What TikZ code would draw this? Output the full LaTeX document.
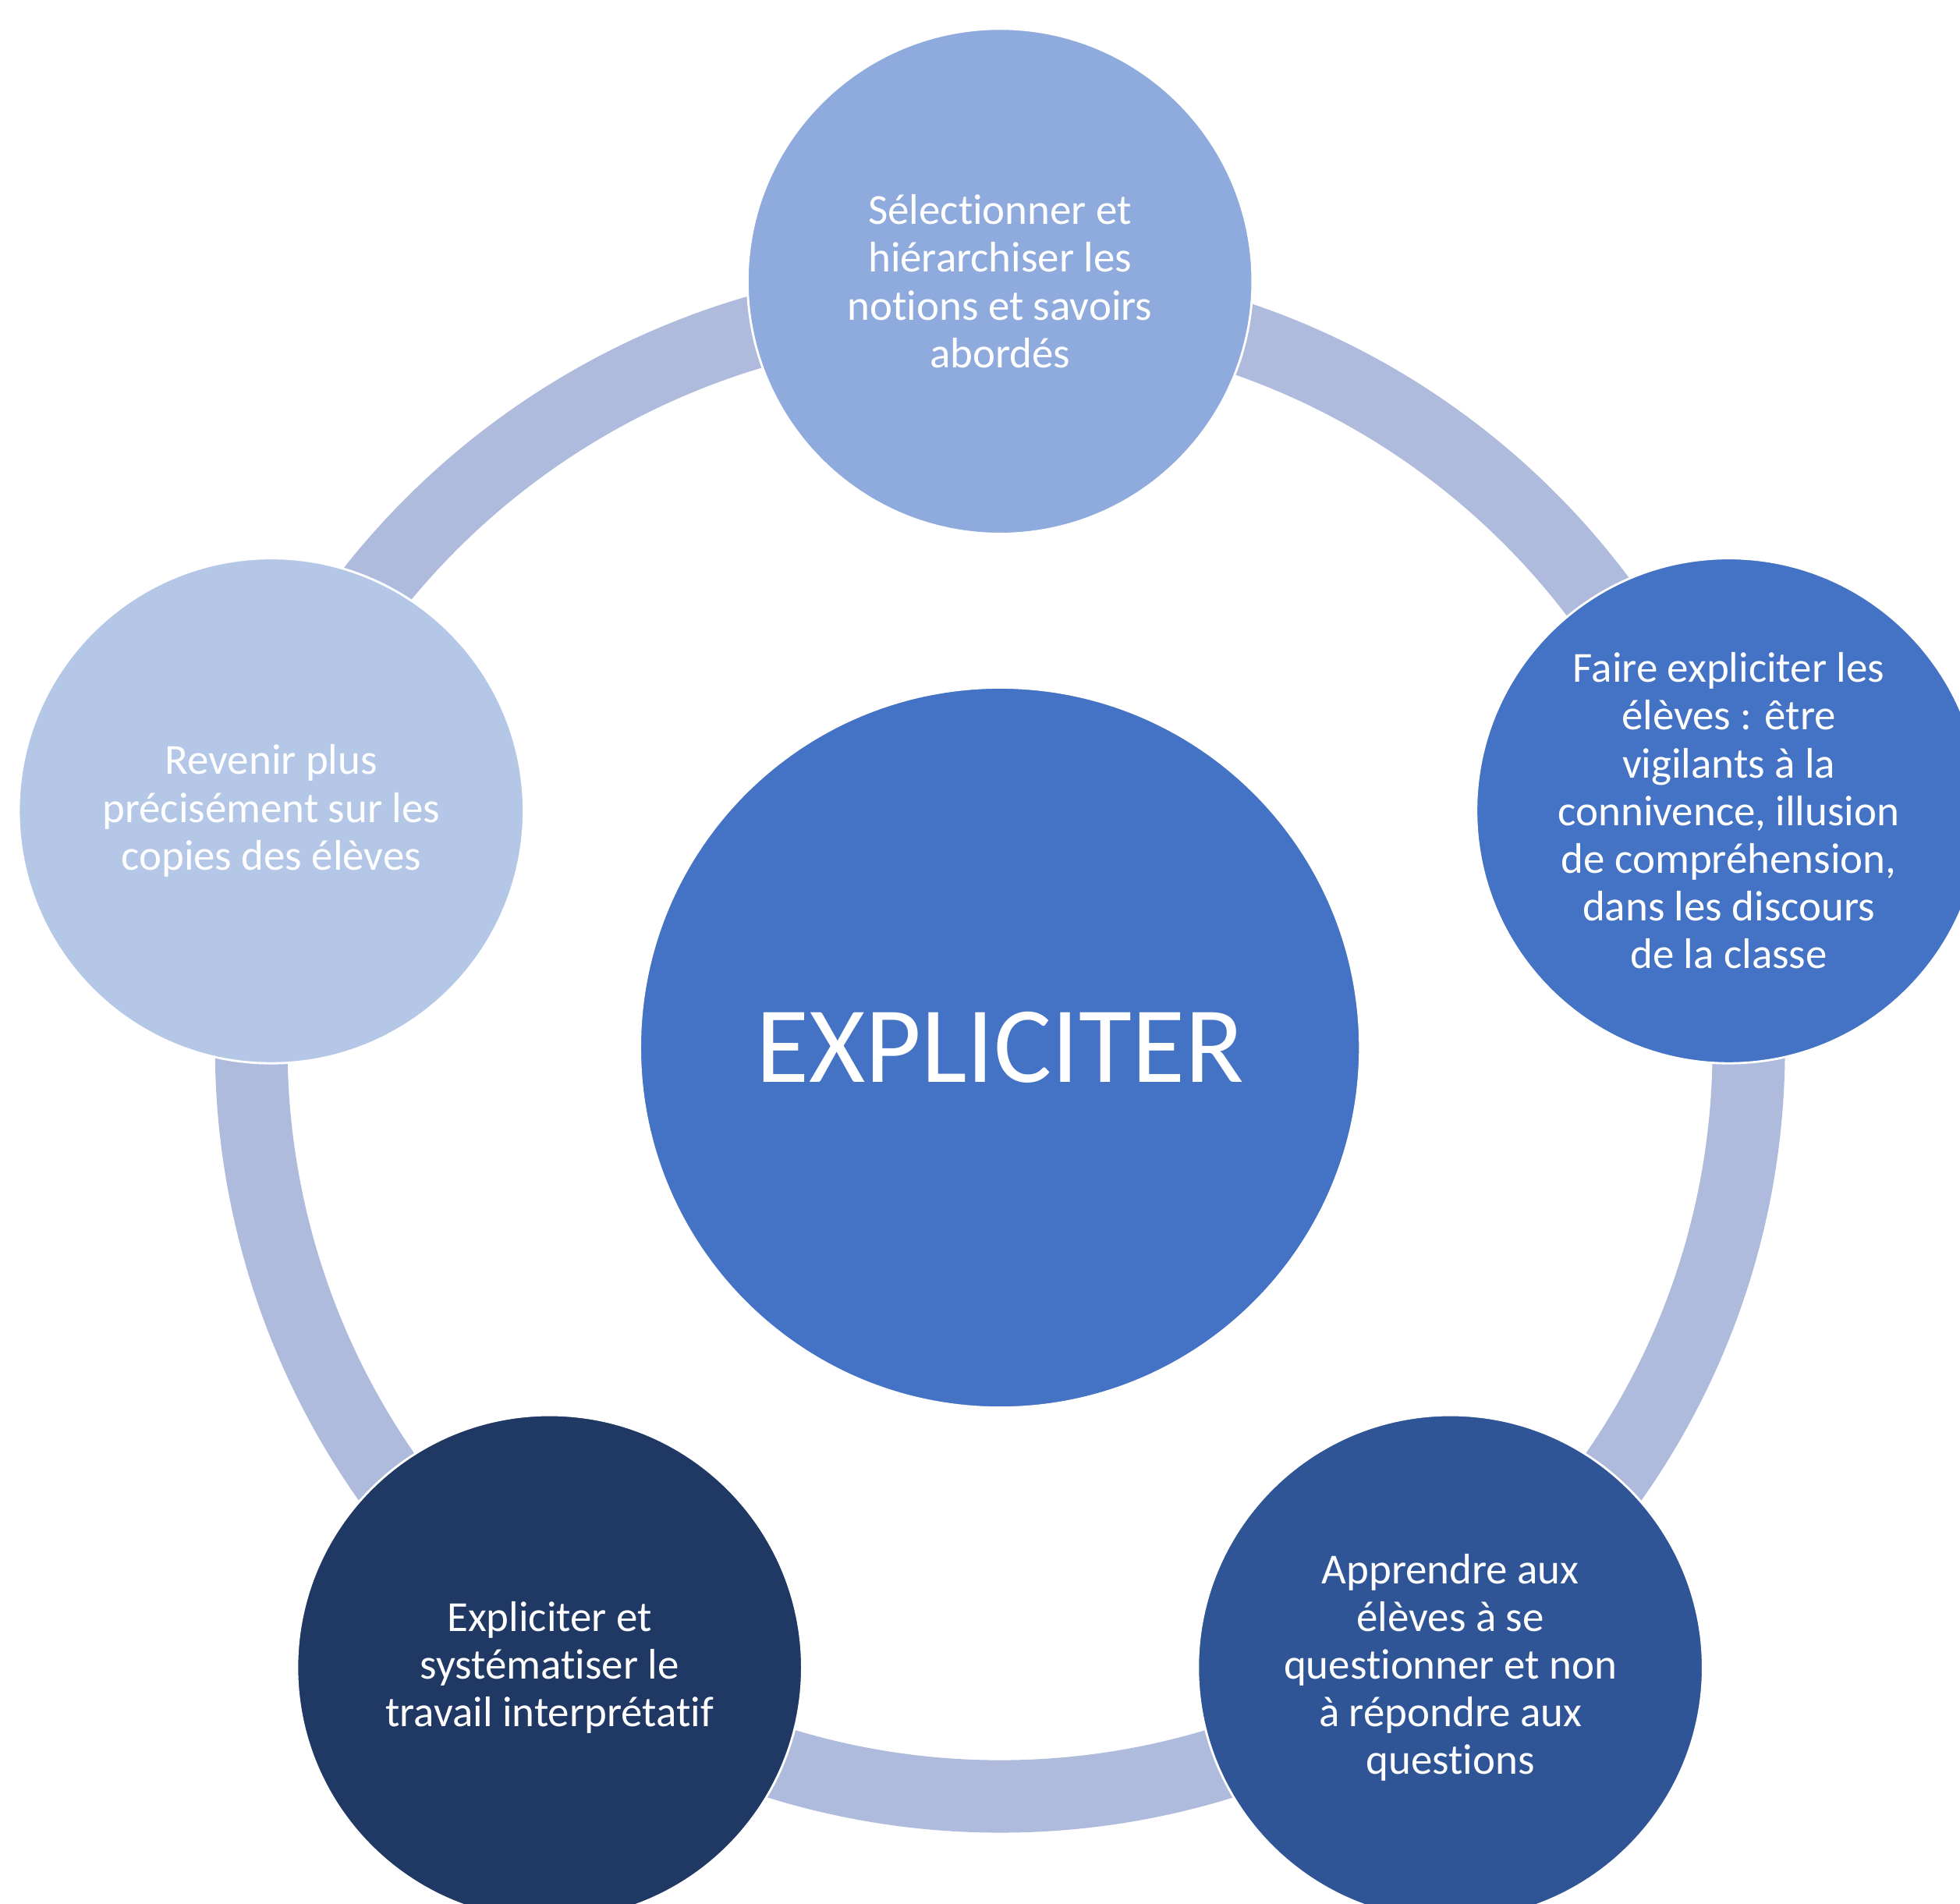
\documentclass[tikz,border=0pt]{standalone}
\usepackage{fontspec}
\setmainfont{Carlito}[Ligatures={NoCommon,NoContextual}]

\definecolor{ringblue}{HTML}{AFBBDD}
\definecolor{hubblue}{HTML}{4472C4}
\definecolor{paleblue}{HTML}{B4C7E7}
\definecolor{softblue}{HTML}{8FAADC}
\definecolor{midblue}{HTML}{2F5597}
\definecolor{darkblue}{HTML}{203864}

\begin{document}
\begin{tikzpicture}
    \tikzstyle{satellite}=[circle, draw=white, line width=0.5pt, minimum size=40.4mm,
                           inner sep=0pt, align=center, text=white,
                           font=\fontsize{9.75}{10.86}\selectfont]
    \tikzstyle{hub}=[circle, draw=white, line width=0.5pt, minimum size=57.6mm,
                     inner sep=0pt, text=white, fill=hubblue,
                     font=\fontsize{24.7}{29}\selectfont]
    \tikzstyle{ringline}=[draw=ringblue, line width=5.8mm]

    \useasboundingbox (-80mm,-68.5mm) rectangle (76.8mm,83.8mm);

    \coordinate (middle) at (0,0);
    \coordinate (bend) at (-2.5mm,-1.1mm);
    % ring of arcs under the circles
    \draw[ringline] (middle) ++(90:59.9mm) arc[start angle=90, end angle=-198, radius=59.9mm];
    \draw[ringline] (bend) ++(87.7:60.8mm) arc[start angle=87.7, end angle=160.3, radius=60.8mm];

    \node[hub] (explain) at (middle) {EXPLICITER};

    \node[satellite, fill=softblue] (select) at (90:61.3mm)
        {Sélectionner et\\hiérarchiser les\\notions et savoirs\\abordés};
    \node[satellite, fill=hubblue] (pupils) at (18:61.3mm)
        {Faire expliciter les\\élèves : être\\vigilants à la\\connivence, illusion\\de compréhension,\\dans les discours\\de la classe};
    \node[satellite, fill=midblue] (question) at (-54:61.3mm)
        {Apprendre aux\\élèves à se\\questionner et non\\à répondre aux\\questions};
    \node[satellite, fill=darkblue] (interpret) at (-126:61.3mm)
        {Expliciter et\\systématiser le\\travail interprétatif};
    \node[satellite, fill=paleblue] (copies) at (162:61.3mm)
        {Revenir plus\\précisément sur les\\copies des élèves};
\end{tikzpicture}
\end{document}
